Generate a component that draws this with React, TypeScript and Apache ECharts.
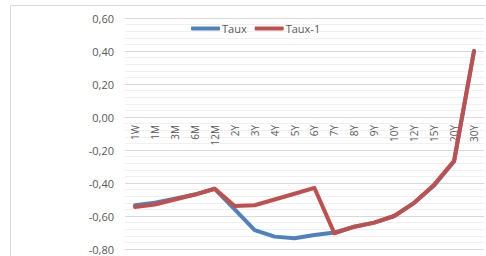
import React, { useEffect, useRef } from "react";
import * as echarts from "echarts";

const categories = ["1W", "1M", "3M", "6M", "12M", "2Y", "3Y", "4Y", "5Y", "6Y", "7Y", "8Y", "9Y", "10Y", "12Y", "15Y", "20Y", "30Y"];
const taux = [-0.535, -0.52, -0.495, -0.47, -0.435, -0.56, -0.685, -0.725, -0.735, -0.715, -0.70, -0.665, -0.64, -0.60, -0.52, -0.415, -0.27, 0.40];
const tauxPrev = [-0.545, -0.53, -0.50, -0.47, -0.435, -0.54, -0.535, -0.50, -0.465, -0.43, -0.705, -0.665, -0.64, -0.60, -0.52, -0.41, -0.265, 0.40];
const seriesNames = ["Taux", "Taux-1"];

const FONT = "'Open Sans', sans-serif";

export default function App() {
  const ref = useRef<HTMLDivElement>(null);
  useEffect(() => {
    if (!ref.current) return;
    const chart = echarts.init(ref.current, undefined, { renderer: "svg" });
    chart.setOption({
      animation: false,
      backgroundColor: "#ffffff",
      textStyle: { fontFamily: FONT },
      graphic: [
        {
          type: "rect",
          shape: { x: 10.5, y: 5.5, width: 600, height: 400 },
          style: { fill: "none", stroke: "#d9d9d9", lineWidth: 1 },
          z: -1,
        },
      ],
      legend: {
        left: 186,
        top: 18,
        icon: "roundRect",
        itemWidth: 29,
        itemHeight: 4,
        itemGap: 8,
        textStyle: { color: "#595959", fontSize: 11, fontFamily: FONT, padding: [0, 0, 0, -3] },
        data: seriesNames,
      },
      grid: { left: 125, right: 2, top: 18, bottom: 7, containLabel: false, outerBoundsMode: "none" },
      xAxis: {
        type: "category",
        data: categories,
        boundaryGap: true,
        position: "bottom",
        offset: -132,
        axisLine: { show: true, onZero: false, lineStyle: { color: "#d9d9d9" } },
        axisTick: { show: false },
        axisLabel: { rotate: 90, fontSize: 10, color: "#595959", margin: 8, fontFamily: FONT, interval: 0 },
      },
      yAxis: {
        type: "value",
        min: -0.8,
        max: 0.6,
        interval: 0.2,
        axisLine: { show: false },
        axisTick: { show: false },
        axisLabel: {
          fontSize: 11,
          color: "#595959",
          margin: 11,
          fontFamily: FONT,
          formatter: (v: number) => v.toFixed(2).replace(".", ","),
        },
        splitLine: { show: true, lineStyle: { color: "#d9d9d9", width: 1 } },
        minorTick: { show: false, splitNumber: 5 },
        minorSplitLine: { show: true, lineStyle: { color: "#f0f0f0", width: 1 } },
      },
      series: [
        {
          name: seriesNames[0],
          type: "line",
          data: taux,
          symbol: "none",
          showSymbol: false,
          lineStyle: { color: "#4f81bd", width: 4, cap: "round", join: "round" },
          itemStyle: { color: "#4f81bd" },
          z: 2,
        },
        {
          name: seriesNames[1],
          type: "line",
          data: tauxPrev,
          symbol: "none",
          showSymbol: false,
          lineStyle: { color: "#c0504d", width: 4, cap: "round", join: "round" },
          itemStyle: { color: "#c0504d" },
          z: 3,
        },
      ],
    });
    return () => chart.dispose();
  }, []);
  return (
    <div
      ref={ref}
      style={{ position: "fixed", left: 0, top: 0, width: 486, height: 256 }}
    />
  );
}
